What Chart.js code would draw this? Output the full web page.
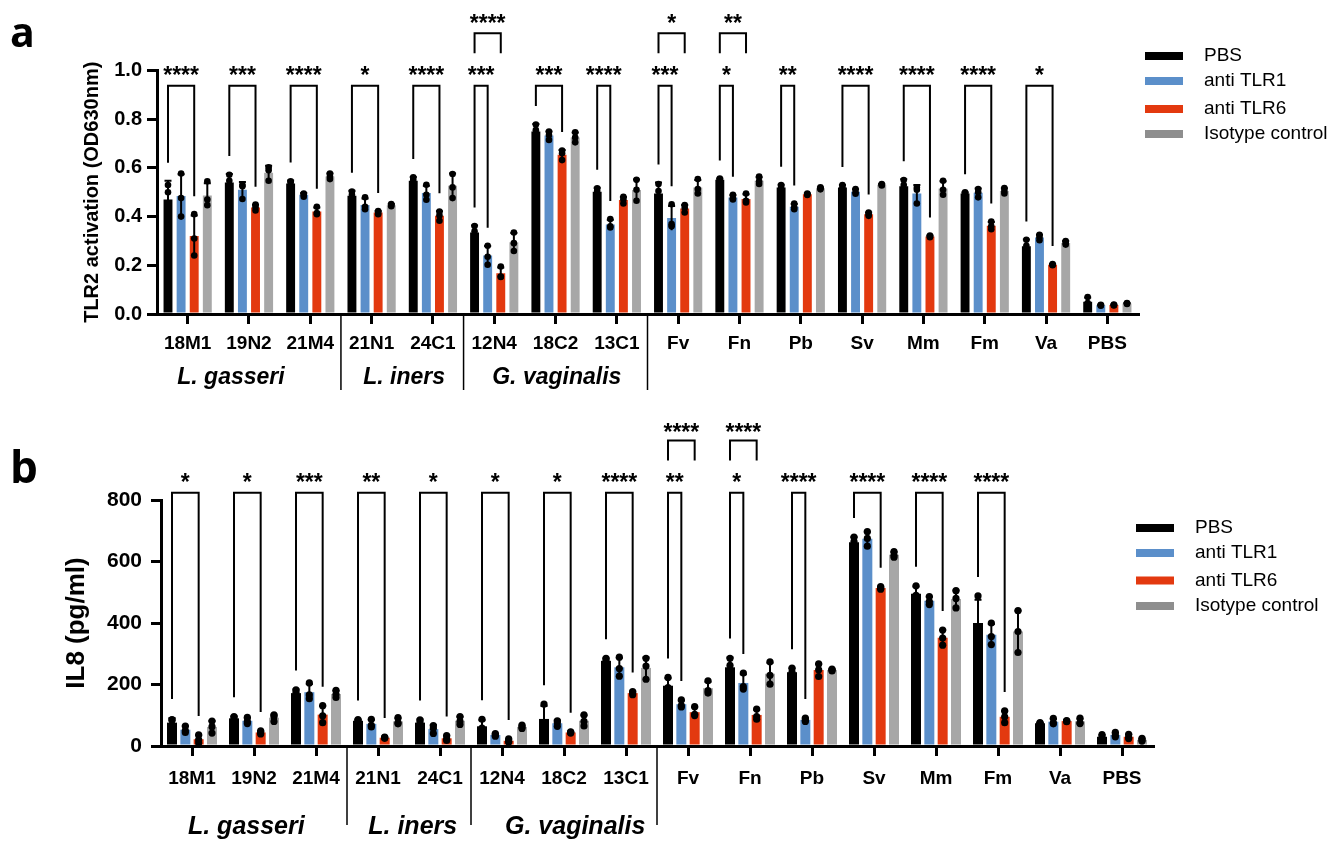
<!DOCTYPE html>
<html><head><meta charset="utf-8">
<script src="https://cdn.jsdelivr.net/npm/chart.js@4.4.1/dist/chart.umd.min.js"></script>
<style>
html,body{margin:0;padding:0;background:#fff;width:1336px;height:841px;overflow:hidden}
canvas{position:absolute;left:0}
#ca{top:0}
#cb{top:420px}
</style></head><body>
<canvas id="ca" width="1336" height="420"></canvas>
<canvas id="cb" width="1336" height="421"></canvas>
<script>
// ---------- shared ----------
const categories = ['18M1','19N2','21M4','21N1','24C1','12N4','18C2','13C1','Fv','Fn','Pb','Sv','Mm','Fm','Va','PBS'];
const seriesNames = ['PBS','anti TLR1','anti TLR6','Isotype control'];
const groupNames = ['L. gasseri','L. iners','G. vaginalis'];
const groupBoundaries = [2, 4, 7]; // separator after these category indices

// ---------- panel a: TLR2 activation (OD630nm) ----------
const tlr2Ticks = [0, 0.2, 0.4, 0.6, 0.8, 1.0];
const tlr2PBS  = [0.470,0.540,0.536,0.486,0.547,0.335,0.750,0.502,0.495,0.551,0.520,0.520,0.525,0.495,0.278,0.050];
const tlr2TLR1 = [0.485,0.510,0.490,0.448,0.497,0.240,0.733,0.368,0.394,0.478,0.440,0.502,0.495,0.498,0.314,0.036];
const tlr2TLR6 = [0.320,0.437,0.421,0.417,0.403,0.167,0.654,0.468,0.433,0.472,0.492,0.410,0.318,0.362,0.202,0.037];
const tlr2Iso  = [0.487,0.580,0.565,0.447,0.527,0.295,0.725,0.509,0.520,0.547,0.516,0.531,0.515,0.505,0.292,0.043];
const tlr2PBS_sd  = [0.077,0.035,0.012,0.020,0.016,0.028,0.030,0.016,0.045,0.005,0.011,0.010,0.028,0.005,0.028,0.018];
const tlr2TLR1_sd = [0.089,0.032,0.007,0.026,0.030,0.039,0.017,0.019,0.050,0.010,0.012,0.010,0.035,0.017,0.011,0.002];
const tlr2TLR6_sd = [0.085,0.012,0.016,0.006,0.019,0.024,0.020,0.013,0.015,0.020,0.003,0.007,0.004,0.016,0.003,0.002];
const tlr2Iso_sd  = [0.050,0.029,0.012,0.005,0.050,0.038,0.020,0.043,0.030,0.015,0.004,0.003,0.030,0.011,0.008,0.002];
const tlr2PBS_pts = [[0.53,0.50,0.38],[0.572,0.547,0.50],[0.545,0.54,0.523],[0.503,0.49,0.465],[0.561,0.55,0.53],[0.361,0.34,0.305],[0.778,0.755,0.717],[0.516,0.505,0.485],[0.534,0.505,0.446],[0.556,0.552,0.545],[0.53,0.522,0.508],[0.53,0.52,0.51],[0.55,0.53,0.495],[0.50,0.495,0.49],[0.305,0.28,0.25],[0.07,0.045,0.035]];
const tlr2TLR1_pts = [[0.577,0.476,0.40],[0.53,0.525,0.472],[0.495,0.49,0.482],[0.479,0.44,0.43],[0.531,0.49,0.469],[0.28,0.235,0.202],[0.749,0.735,0.715],[0.39,0.36,0.355],[0.451,0.369,0.36],[0.49,0.475,0.47],[0.454,0.438,0.43],[0.513,0.50,0.494],[0.52,0.51,0.454],[0.513,0.50,0.479],[0.325,0.315,0.303],[0.038,0.036,0.034]];
const tlr2TLR6_pts = [[0.41,0.31,0.24],[0.449,0.438,0.425],[0.44,0.415,0.41],[0.423,0.417,0.41],[0.421,0.405,0.383],[0.195,0.154,0.152],[0.671,0.66,0.632],[0.481,0.47,0.454],[0.447,0.435,0.417],[0.495,0.465,0.458],[0.495,0.492,0.489],[0.417,0.41,0.403],[0.322,0.318,0.315],[0.38,0.36,0.348],[0.205,0.202,0.20],[0.039,0.037,0.035]];
const tlr2Iso_pts = [[0.545,0.47,0.447],[0.602,0.59,0.547],[0.577,0.565,0.554],[0.452,0.447,0.443],[0.575,0.52,0.476],[0.335,0.291,0.259],[0.746,0.725,0.705],[0.551,0.51,0.465],[0.554,0.513,0.495],[0.564,0.545,0.534],[0.52,0.516,0.512],[0.534,0.531,0.528],[0.547,0.51,0.49],[0.517,0.505,0.495],[0.30,0.292,0.285],[0.045,0.043,0.041]];
// [category, compared series index, stars, level]
const tlr2Sig = [['18M1',2,'****',1],['19N2',2,'***',1],['21M4',2,'****',1],['21N1',2,'*',1],['24C1',2,'****',1],
  ['12N4',1,'***',1],['12N4',2,'****',2],['18C2',2,'***',1],['13C1',1,'****',1],['Fv',1,'***',1],['Fv',2,'*',2],
  ['Fn',1,'*',1],['Fn',2,'**',2],['Pb',1,'**',1],['Sv',2,'****',1],['Mm',2,'****',1],['Fm',2,'****',1],['Va',2,'*',1]];

// ---------- panel b: IL8 (pg/ml) ----------
const il8Ticks = [0, 200, 400, 600, 800];
const il8PBS  = [76,90,172,82,76,64,88,277,196,256,240,663,495,400,74,30];
const il8TLR1 = [53,82,175,72,55,36,74,256,136,205,85,674,472,362,79,36];
const il8TLR6 = [22,44,102,27,25,17,44,172,110,101,247,514,352,95,81,30];
const il8Iso  = [62,92,169,80,82,62,82,254,188,235,247,622,478,372,80,20];
const il8PBS_sd  = [15,7,12,4,10,20,42,8,24,32,13,17,24,76,2,6];
const il8TLR1_sd = [11,10,27,13,13,4,9,31,12,28,5,23,13,35,9,7];
const il8TLR6_sd = [13,5,28,2,8,5,2,5,16,17,20,4,25,19,2,7];
const il8Iso_sd  = [19,10,11,10,13,5,18,34,21,36,3,9,28,68,9,4];
const il8PBS_pts = [[86,84,58],[96,92,82],[183,175,158],[86,83,77],[85,78,65],[87,58,47],[136,70,58],[285,278,268],[223,190,175],[285,262,221],[253,240,227],[679,665,645],[521,490,474],[488,360,352],[76,74,72],[37,28,25]];
const il8TLR1_pts = [[65,50,44],[93,80,73],[205,166,154],[87,67,62],[66,58,41],[40,36,32],[82,76,64],[289,252,227],[150,131,127],[237,193,185],[91,84,80],[697,675,650],[486,470,460],[400,356,330],[90,75,72],[44,34,30]];
const il8TLR6_pts = [[36,20,10],[49,44,39],[131,98,76],[29,27,25],[34,23,18],[23,15,13],[46,44,42],[177,172,167],[128,103,99],[120,96,87],[267,248,226],[518,514,510],[377,351,328],[114,95,76],[83,81,79],[38,28,24]];
const il8Iso_pts = [[81,63,42],[101,95,80],[181,168,158],[92,76,72],[96,80,70],[68,61,57],[101,80,65],[285,260,217],[212,180,172],[274,230,201],[250,247,244],[632,620,614],[505,480,449],[440,372,304],[91,76,73],[25,19,16]];
const il8Sig = [['18M1',2,'*',1],['19N2',2,'*',1],['21M4',2,'***',1],['21N1',2,'**',1],['24C1',2,'*',1],['12N4',2,'*',1],
  ['18C2',2,'*',1],['13C1',2,'****',1],['Fv',1,'**',1],['Fv',2,'****',2],['Fn',1,'*',1],['Fn',2,'****',2],
  ['Pb',1,'****',1],['Sv',2,'****',1],['Mm',2,'****',1],['Fm',2,'****',1]];

// ---------- styles ----------
const FONT = "'Liberation Sans', Arial, Helvetica, sans-serif";
const barColors = ['#000000','#5b8fca','#e3390f','#a7a7a7'];
const legendColors = ['#000000','#5b8fca','#e3390f','#8e8e8e'];

function textCentered(ctx, text, cx, cy){
  const m = ctx.measureText(text);
  ctx.textBaseline = 'alphabetic';
  ctx.fillText(text, cx, cy + (m.actualBoundingBoxAscent - m.actualBoundingBoxDescent)/2);
}

const annot = {
  id: 'annot',
  afterDatasetsDraw(chart, args, o) {
    const ctx = chart.ctx, ys = chart.scales.y, xs = chart.scales.x, ca = chart.chartArea;
    ctx.save();
    // error bars + replicate dots
    o.sds.forEach((sdArr, di) => {
      const meta = chart.getDatasetMeta(di);
      meta.data.forEach((bar, ci) => {
        const m = chart.data.datasets[di].data[ci], sd = sdArr[ci];
        const yt = ys.getPixelForValue(m + sd), yb = ys.getPixelForValue(Math.max(0, m - sd));
        ctx.strokeStyle = '#000'; ctx.lineWidth = 2;
        ctx.beginPath();
        ctx.moveTo(bar.x, yt); ctx.lineTo(bar.x, yb);
        ctx.moveTo(bar.x - 3.5, yt); ctx.lineTo(bar.x + 3.5, yt);
        ctx.stroke();
        ctx.fillStyle = '#000';
        o.pts[di][ci].forEach(v => {
          ctx.beginPath(); ctx.arc(bar.x, ys.getPixelForValue(v), o.dotR, 0, Math.PI*2); ctx.fill();
        });
      });
    });
    // significance brackets
    const topOf = (di, ci) => {
      const m = chart.data.datasets[di].data[ci];
      return ys.getPixelForValue(Math.max(m + o.sds[di][ci], ...o.pts[di][ci]));
    };
    ctx.strokeStyle = '#000'; ctx.lineWidth = 2; ctx.fillStyle = '#000';
    ctx.font = 'bold ' + o.starSize + 'px ' + FONT; ctx.textAlign = 'center';
    o.sig.forEach(([cat, cmp, stars, level]) => {
      const ci = categories.indexOf(cat);
      const x1 = chart.getDatasetMeta(0).data[ci].x, x2 = chart.getDatasetMeta(cmp).data[ci].x;
      const L = level === 1 ? o.lv1 : o.lv2;
      const yTop = ca.top + L.bracket;
      const b1 = level === 1 ? topOf(0, ci) - o.legGap : yTop + L.leg;
      const b2 = level === 1 ? topOf(cmp, ci) - o.legGap : yTop + L.leg;
      ctx.beginPath();
      ctx.moveTo(x1, b1); ctx.lineTo(x1, yTop); ctx.lineTo(x2, yTop); ctx.lineTo(x2, b2);
      ctx.stroke();
      textCentered(ctx, stars, (x1 + x2)/2, ca.top + L.star);
    });
    ctx.restore();
  },
  afterDraw(chart, args, o) {
    const ctx = chart.ctx, xs = chart.scales.x, ca = chart.chartArea;
    ctx.save();
    // group separators
    ctx.strokeStyle = '#000'; ctx.lineWidth = 1.5;
    groupBoundaries.forEach(i => {
      const xb = (xs.getPixelForValue(i) + xs.getPixelForValue(i + 1)) / 2;
      ctx.beginPath(); ctx.moveTo(xb, ca.bottom + 1); ctx.lineTo(xb, ca.bottom + o.sepLen); ctx.stroke();
    });
    // group labels
    ctx.fillStyle = '#000'; ctx.textAlign = 'center';
    ctx.font = 'italic bold ' + o.groupSize + 'px ' + FONT;
    groupNames.forEach((g, k) => {
      const p = o.groupPos[k], i0 = Math.floor(p), f = p - i0;
      const gx = xs.getPixelForValue(i0) + f * (xs.getPixelForValue(i0 + 1) - xs.getPixelForValue(i0));
      ctx.textBaseline = 'middle';
      ctx.fillText(g, gx, ca.bottom + o.groupDy);
    });
    // legend
    ctx.textAlign = 'left'; ctx.textBaseline = 'middle';
    ctx.font = o.legendSize + 'px ' + FONT;
    chart.data.datasets.forEach((ds, i) => {
      const ry = o.legend.rows[i];
      ctx.fillStyle = legendColors[i];
      ctx.fillRect(o.legend.x, ry - 4, 38, 8);
      ctx.fillStyle = '#000';
      ctx.fillText(ds.label, o.legend.tx, ry);
    });
    // panel letter
    ctx.font = 'bold ' + o.letter.size + "px 'Open Sans', 'DejaVu Sans', sans-serif";
    ctx.textBaseline = 'alphabetic';
    ctx.fillText(o.letter.text, o.letter.x, o.letter.y);
    ctx.restore();
  }
};

function makeChart(id, cfg) {
  const datasets = cfg.means.map((d, i) => ({
    label: seriesNames[i], data: d, backgroundColor: barColors[i], borderWidth: 0,
    categoryPercentage: cfg.catPct, barPercentage: cfg.barPct
  }));
  return new Chart(document.getElementById(id), {
    type: 'bar',
    data: { labels: categories, datasets },
    options: {
      responsive: false, animation: false, devicePixelRatio: 1,
      layout: { padding: cfg.padding },
      plugins: { legend: { display: false }, tooltip: { enabled: false }, annot: cfg.annot },
      scales: {
        x: {
          offset: true,
          grid: { offset: false, drawOnChartArea: false, drawTicks: true, tickLength: 10, color: '#000', lineWidth: 3 },
          border: { display: true, color: '#000', width: 3 },
          ticks: { color: '#000', font: { family: FONT, weight: 'bold', size: 19 }, padding: cfg.xPad, maxRotation: 0, autoSkip: false },
          afterFit: s => { s.height = 40; }
        },
        y: {
          min: cfg.ticks[0], max: cfg.ticks[cfg.ticks.length - 1],
          afterBuildTicks: s => { s.ticks = cfg.ticks.map(v => ({ value: v })); },
          ticks: { color: '#000', font: { family: FONT, weight: 'bold', size: cfg.yTickSize }, padding: cfg.yPad, callback: cfg.fmt },
          grid: { drawOnChartArea: false, drawTicks: true, tickLength: 10, color: '#000', lineWidth: 3 },
          border: { display: true, color: '#000', width: 3 },
          title: { display: true, text: cfg.title, color: '#000', font: { family: FONT, weight: 'bold', size: cfg.titleSize }, padding: { top: 0, bottom: 0 } },
          afterFit: s => { s.width = cfg.yWidth; }
        }
      }
    },
    plugins: [annot]
  });
}

makeChart('ca', {
  means: [tlr2PBS, tlr2TLR1, tlr2TLR6, tlr2Iso],
  ticks: tlr2Ticks, fmt: v => Number(v).toFixed(1),
  title: 'TLR2 activation (OD630nm)', titleSize: 20, yTickSize: 20, yPad: 5, xPad: 8,
  catPct: 0.855, barPct: 0.68, yWidth: 77,
  padding: { left: 80, right: 198, top: 70.5, bottom: 66 },
  annot: {
    sds: [tlr2PBS_sd, tlr2TLR1_sd, tlr2TLR6_sd, tlr2Iso_sd],
    pts: [tlr2PBS_pts, tlr2TLR1_pts, tlr2TLR6_pts, tlr2Iso_pts],
    sig: tlr2Sig, dotR: 3.3, starSize: 23, legGap: 18,
    lv1: { bracket: 15.2, star: -0.5 }, lv2: { bracket: -37.2, leg: 20, star: -52.5 },
    sepLen: 76, groupSize: 23, groupDy: 64, groupPos: [0.706, 3.53, 6.02],
    legendSize: 19, legend: { x: 1145, tx: 1204, rows: [56, 81, 109, 134] },
    letter: { text: 'a', size: 41, x: 10, y: 47 }
  }
});

makeChart('cb', {
  means: [il8PBS, il8TLR1, il8TLR6, il8Iso],
  ticks: il8Ticks, fmt: v => String(v),
  title: 'IL8 (pg/ml)', titleSize: 26, yTickSize: 21, yPad: 9, xPad: 11,
  catPct: 0.86, barPct: 0.75, yWidth: 100,
  padding: { left: 61, right: 183, top: 80, bottom: 55 },
  annot: {
    sds: [il8PBS_sd, il8TLR1_sd, il8TLR6_sd, il8Iso_sd],
    pts: [il8PBS_pts, il8TLR1_pts, il8TLR6_pts, il8Iso_pts],
    sig: il8Sig, dotR: 3.6, starSize: 23, legGap: 19,
    lv1: { bracket: -7.3, star: -23 }, lv2: { bracket: -59.5, leg: 20, star: -73 },
    sepLen: 79, groupSize: 25, groupDy: 81, groupPos: [0.876, 3.56, 6.18],
    legendSize: 19, legend: { x: 1136, tx: 1195, rows: [108, 133, 160.5, 186] },
    letter: { text: 'b', size: 44, x: 10, y: 63 }
  }
});
</script>
</body></html>
